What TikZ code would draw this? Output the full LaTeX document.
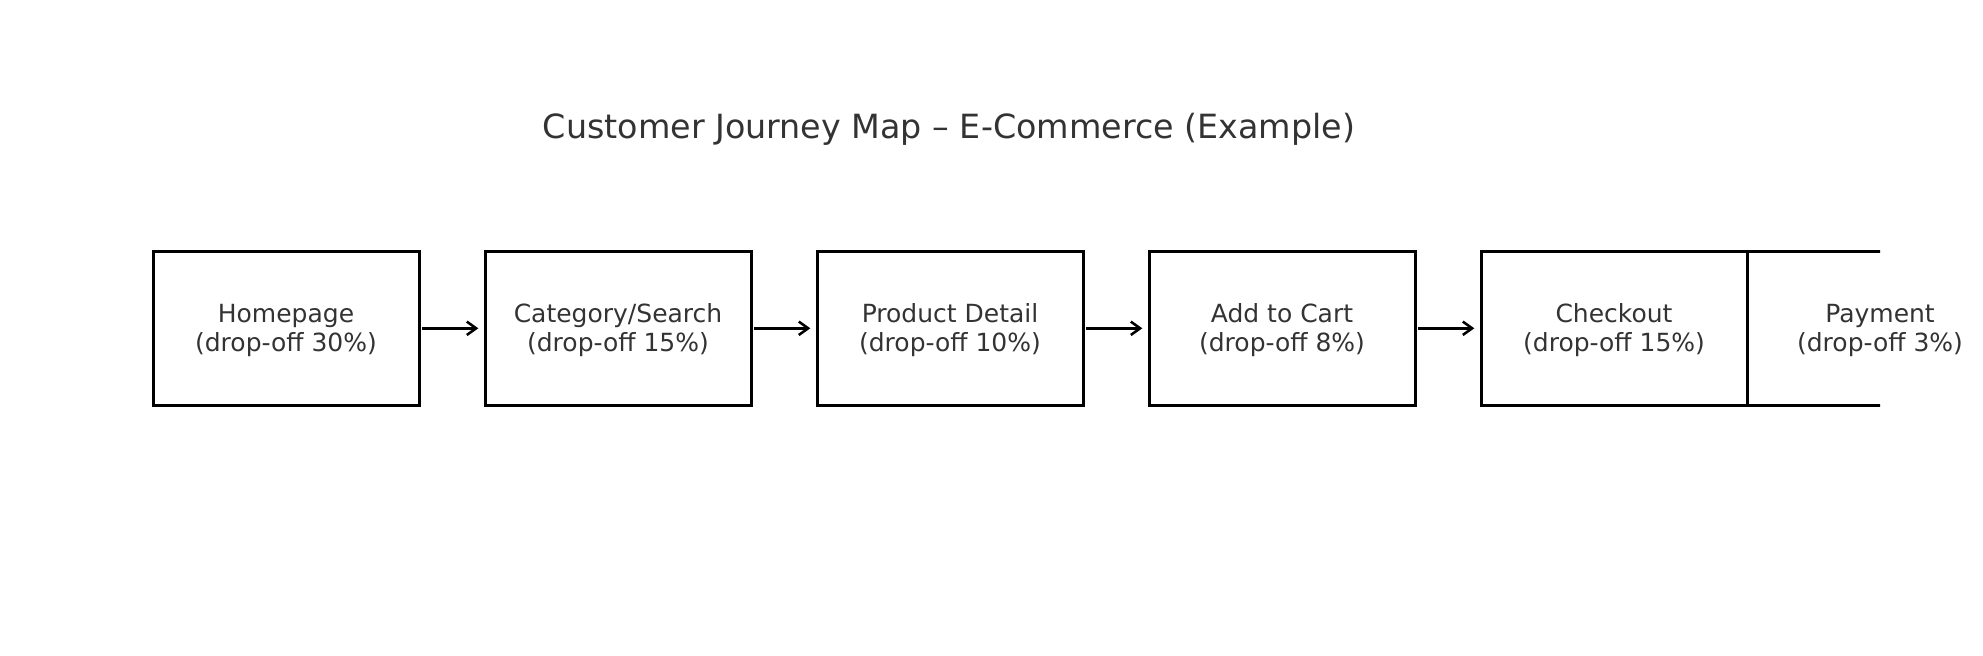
\documentclass[tikz,border=0pt]{standalone}
\usepackage{fontspec}
\setmainfont{DejaVu Sans}
\usetikzlibrary{arrows.meta}
\definecolor{txt}{HTML}{333333}
\tikzset{
  stage/.style={draw=black, line width=2.25pt, minimum width=199.5pt, minimum height=115.8pt,
    inner sep=0pt, outer sep=0pt, align=center, text=txt, text height=39.4pt, text depth=5pt,
    font=\fontsize{18.75}{21.4}\selectfont},
  flow/.style={line width=1.9pt, -{Straight Barb[length=7pt,width=10pt,line width=1.9pt]},
    shorten <=2.25pt, shorten >=5pt},
  ttl/.style={anchor=base, text=txt, inner sep=0pt, font=\fontsize{25}{30}\selectfont}
}
\begin{document}
\begin{tikzpicture}[x=0.75pt,y=-0.75pt]
\useasboundingbox (0,0) rectangle (1983,656);
\node[ttl] (title) at (949,138.5) {Customer Journey Map – E-Commerce (Example)};
\node[stage] (home) at (286,328.3) {Homepage\\(drop-off 30\%)};
\node[stage] (cat) at (618,328.3) {Category/Search\\(drop-off 15\%)};
\node[stage] (prod) at (950,328.3) {Product Detail\\(drop-off 10\%)};
\node[stage] (cart) at (1282,328.3) {Add to Cart\\(drop-off 8\%)};
\node[stage] (chk) at (1614,328.3) {Checkout\\(drop-off 15\%)};
\node[stage, draw=none] (pay) at (1880,328.3) {Payment\\(drop-off 3\%)};
\begin{scope}
\clip (0,0) rectangle (1880,656);
\draw[line width=2.25pt] (pay.south west) rectangle (pay.north east);
\end{scope}
\draw[flow] (home) -- (cat);
\draw[flow] (cat) -- (prod);
\draw[flow] (prod) -- (cart);
\draw[flow] (cart) -- (chk);
\end{tikzpicture}
\end{document}
